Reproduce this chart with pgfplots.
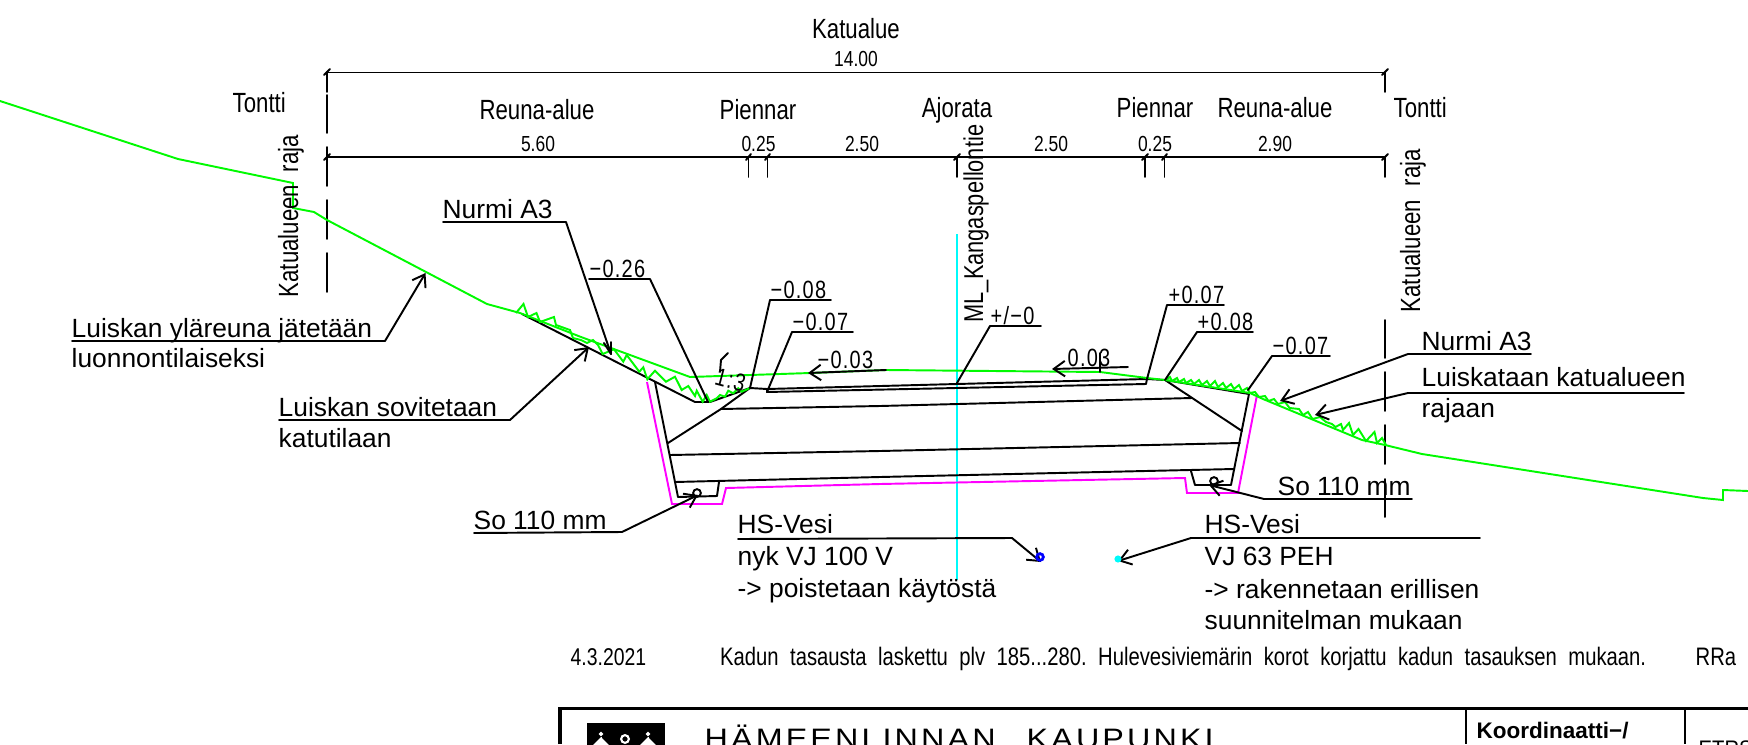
\documentclass[border=0pt]{standalone}
\usepackage{pgfplots}
\pgfplotsset{compat=1.18}
\usepackage{fontspec}
\usetikzlibrary{arrows.meta}
\setmainfont{Liberation Sans}
\newfontfamily\cad[FakeStretch=0.8]{Liberation Sans}
\newfontfamily\cadn[FakeStretch=0.9]{Liberation Sans}
\newfontfamily\cadl[FakeStretch=0.8,LetterSpace=5]{Liberation Sans}
\newfontfamily\cadw[FakeStretch=1.15,LetterSpace=11]{Liberation Sans}
\frenchspacing
\definecolor{grn}{RGB}{0,250,0}
\definecolor{mag}{RGB}{255,0,255}
\definecolor{cyn}{RGB}{0,250,250}
\newcommand{\T}[4][]{\node[anchor=base west,inner sep=0pt,#1] at (axis cs:#2,#3) {#4};}
\newcommand{\C}[3]{\node[anchor=base,inner sep=0pt] at (axis cs:#1,#2) {#3};}
\newcommand{\A}{\fontsize{7.5pt}{8pt}\selectfont}
\newcommand{\B}{\cad\fontsize{7.9pt}{9pt}\selectfont}
\newcommand{\D}{\cad\fontsize{6.2pt}{7pt}\selectfont}
\newcommand{\E}{\cadl\fontsize{7.1pt}{8pt}\selectfont}
\newcommand{\F}{\cad\fontsize{7.2pt}{8pt}\selectfont}
\tikzset{ln/.style={black,line width=0.55pt,line cap=round,line join=round},
 gl/.style={grn,line width=0.55pt,line join=miter},
 ar/.style={ln,-{Straight Barb[length=3.2pt,width=4.4pt,line width=0.55pt]}}}
\begin{document}
\begin{tikzpicture}
\clip (0,0) rectangle (17.48,7.44);
\begin{axis}[hide axis,scale only axis,width=17.48cm,height=7.44cm,
 xmin=0,xmax=1748,ymin=0,ymax=744,y dir=reverse,clip=false]
% cyan centre line
\addplot[cyn,line width=0.6pt] coordinates {(957,234) (957,580)};
% dimension lines
\addplot[ln] coordinates {(327,72.5) (1385,72.5)};
\addplot[ln] coordinates {(327,157) (1385,157)};
\addplot[ln] coordinates {(1385,72) (1385,92)};
\addplot[ln] coordinates {(1385,157) (1385,177)};
\addplot[ln] coordinates {(748.5,157) (748.5,177)};
\addplot[ln] coordinates {(767.5,157) (767.5,177)};
\addplot[ln] coordinates {(957,157) (957,177)};
\addplot[ln] coordinates {(1145,157) (1145,177)};
\addplot[ln] coordinates {(1164.5,157) (1164.5,177)};
\addplot[ln] coordinates {(324,75) (330,69)};
\addplot[ln] coordinates {(1382,75) (1388,69)};
\addplot[ln] coordinates {(324,160) (330,154)};
\addplot[ln] coordinates {(746,160) (751,154)};
\addplot[ln] coordinates {(765,160) (770,154)};
\addplot[ln] coordinates {(954,160) (960,154)};
\addplot[ln] coordinates {(1142,160) (1148,154)};
\addplot[ln] coordinates {(1162,160) (1167,154)};
\addplot[ln] coordinates {(1382,160) (1388,154)};
% boundary dashes left
\addplot[ln] coordinates {(327,72) (327,92)};
\addplot[ln] coordinates {(327,95) (327,133)};
\addplot[ln] coordinates {(327,147) (327,186)};
\addplot[ln] coordinates {(327,200) (327,239)};
\addplot[ln] coordinates {(327,253) (327,292)};
% boundary dashes right
\addplot[ln] coordinates {(1385,320) (1385,358)};
\addplot[ln] coordinates {(1385,372) (1385,411)};
\addplot[ln] coordinates {(1385,425) (1385,464)};
\addplot[ln] coordinates {(1385,479) (1385,517)};
% road structure
\addplot[ln] coordinates {(522,314) (695,402) (710,402) (750,388) (767,389) (1147,379) (1165,380) (1249,394)};
\addplot[ln] coordinates {(767,389) (767,392) (1146,384) (1147,379)};
\addplot[ln] coordinates {(668,443) (721,409) (750,388)};
\addplot[ln] coordinates {(721,409) (880,406) (1192,398)};
\addplot[ln] coordinates {(1165,380) (1242,431)};
\addplot[ln] coordinates {(655,382) (678,497) (717,496) (719,482)};
\addplot[ln] coordinates {(1249,394) (1231,485) (1195,485) (1191,471)};
\addplot[ln] coordinates {(670,455) (880,451) (1240,443)};
\addplot[ln] coordinates {(675,482) (880,477) (1234,469)};
% magenta
\addplot[mag,line width=0.55pt] coordinates {(647,382) (672,504) (722,504) (726,488) (880,484) (1185,478) (1187,493) (1238,493) (1257,395)};
% green terrain
\addplot[gl] coordinates {(0,101) (178,159) (293,183) (293,208) (314,212) (327,220) (487,304) (520,313) (581,337) (690,377) (810,373) (886,370) (1100,372) (1147,378) (1165,380)};
\addplot[gl] coordinates {(1165,380) (1250,393) (1263,399) (1362,440) (1385,445) (1422,454) (1703,498) (1723,500) (1723,490) (1748,491)};
% green zigzag left
\addplot[gl] coordinates {(516,313) (523.5,304) (528,317) (536.5,313) (540,322) (554,317) (556,325) (570,330) (573,338) (581,340) (587,343) (593,340) (598,345) (602.7,354) (614,349.3) (623.3,361.7) (626.7,355) (639.3,371.7) (643.3,367.3) (647.3,379.3) (655,370.7) (666,381.7) (675,376.7) (681.7,390) (688.3,386) (695,396) (696.7,390.7) (702.7,401.7) (706.7,395) (710,401.7) (716.7,398.3) (720,395) (725,396.7) (728.3,390.7) (733.3,393.3) (738.3,388.3) (741.7,391.7) (749.3,388.3)};
% green zigzag right
\addplot[gl] coordinates {(1165,380) (1170,377) (1172,381) (1177,378) (1179,382) (1184,379) (1186,383) (1191,380) (1194,384) (1199,380) (1202,385) (1207,381) (1210,386) (1215,381) (1218,387) (1223,383) (1226,388) (1231,384) (1234,389) (1239,385) (1242,391) (1247,388) (1250,393) (1255,392) (1259,397) (1265,396) (1268.5,401) (1274,399) (1278,404) (1285,402) (1289.6,408) (1299,409) (1303,415) (1308,412) (1312.5,419) (1320,417) (1326,422) (1332,424) (1335.5,427) (1341,424) (1343,430) (1349,423) (1353,435) (1358.5,429) (1366,441) (1374.5,432) (1377,443) (1382,438) (1386,445)};
% leaders
\addplot[ln] coordinates {(443,222) (566,222) (611,354)};
\addplot[ln] coordinates {(604,343) (611,354) (611,342)};
\addplot[ar] coordinates {(72,341) (385,341) (425.5,273)};
\addplot[ar] coordinates {(279,420) (510,420) (589,347)};
\addplot[ln] coordinates {(589,279) (650,279) (708,402)};
\addplot[ln] coordinates {(770,300) (831,300)};
\addplot[ln] coordinates {(770,300) (750,388)};
\addplot[ln] coordinates {(792,332) (853,332)};
\addplot[ln] coordinates {(792,332) (767,392)};
\addplot[ar] coordinates {(886,370) (808,373)};
\addplot[ln] coordinates {(1041,326) (990,326) (957,383)};
\addplot[ar] coordinates {(1128,367) (1052,369)};
\addplot[ln] coordinates {(1100,353) (1100,372)};
\addplot[ln] coordinates {(1224,305) (1167,305) (1147,379)};
\addplot[ln] coordinates {(1253,332) (1197,332) (1165,380)};
\addplot[ln] coordinates {(1330,356) (1272,356) (1248,390)};
\addplot[ar] coordinates {(1531,354) (1408,354) (1280,401)};
\addplot[ar] coordinates {(1684,393) (1408,393) (1315,415)};
\addplot[ar] coordinates {(474,533) (622,532) (698,495)};
\addplot[ar] coordinates {(1412,499) (1264,499) (1209,485)};
\addplot[ln] coordinates {(728,353) (721,360) (720,372)};
% pipes
\addplot[only marks,mark=o,mark size=1.1pt,mark options={black,line width=0.55pt}] coordinates {(697,493) (1214,481)};
\addplot[only marks,mark=o,mark size=0.95pt,mark options={blue,line width=0.8pt}] coordinates {(1040,557)};
\addplot[only marks,mark=*,mark size=0.8pt,mark options={cyn,fill=cyn}] coordinates {(1118,559)};
\addplot[ar] coordinates {(738,539) (1012,538) (1041,562)};
\addplot[ar] coordinates {(1480,538) (1191,538) (1118,561)};
% title block
\addplot[black,line width=0.9pt] coordinates {(560,744) (560,708.5) (1748,708.5)};
\addplot[black,line width=0.6pt] coordinates {(1466,709) (1466,744)};
\addplot[black,line width=0.6pt] coordinates {(1685,709) (1685,744)};
\addplot[black,fill=black,line width=0pt] coordinates {(587,723) (664,723) (664,748) (587,748)} -- cycle;
\addplot[white,fill=white,line width=0pt] coordinates {(601,737) (592,746) (610,746)} -- cycle;
\addplot[white,fill=white,line width=0pt] coordinates {(648,737) (639,746) (657,746)} -- cycle;
\addplot[only marks,mark=*,mark size=0.4pt,mark options={white,fill=white}] coordinates {(601,734) (648,734)};
\addplot[only marks,mark=o,mark size=1.1pt,mark options={white,line width=0.6pt}] coordinates {(625,739)};
% big dimension text
\C{856}{39}{\B Katualue}
\C{856}{66}{\D 14.00}
\T{232}{112}{\B Tontti}
\C{537}{119}{\B Reuna-alue}
\C{758}{119}{\B Piennar}
\C{957}{117}{\B Ajorata}
\C{1155}{117}{\B Piennar}
\C{1275}{117}{\B Reuna-alue}
\T{1393}{117}{\B Tontti}
\C{538}{151}{\D 5.60}
\C{758.5}{151}{\D 0.25}
\C{862}{151}{\D 2.50}
\C{1051}{151}{\D 2.50}
\C{1155}{151}{\D 0.25}
\C{1275}{151}{\D 2.90}
\T[rotate=90]{298}{298}{\B\makebox[1.62cm][s]{Katualueen raja}}
\T[rotate=90]{1420}{313}{\B\makebox[1.63cm][s]{Katualueen raja}}
\T[rotate=90]{983}{323}{\cad\fontsize{7.75pt}{9pt}\selectfont ML\_Kangaspellontie}
% level text
\T{589}{277}{\E −0.26}
\T{770}{298}{\E −0.08}
\T{792}{330}{\E −0.07}
\T{817}{368}{\E −0.03}
\T{990}{324}{\E +/−0}
\T{1067}{366}{\E 0.03}
\T{1168}{303}{\E +0.07}
\T{1197}{330}{\E +0.08}
\T{1272}{354}{\E −0.07}
\T[rotate=-15]{713}{384}{\E 1:3}
% Arial labels
\T{442}{218}{\A Nurmi A3}
\T{71}{337}{\A Luiskan yläreuna jätetään}
\T{71}{367}{\A luonnontilaiseksi}
\T{278}{416}{\A Luiskan sovitetaan}
\T{278}{447}{\A katutilaan}
\T{473}{529}{\A So 110 mm}
\T{737}{533}{\A HS-Vesi}
\T{737}{565}{\A nyk VJ 100 V}
\T{737}{597}{\A -> poistetaan käytöstä}
\T{1204}{533}{\A HS-Vesi}
\T{1204}{565}{\A VJ 63 PEH}
\T{1204}{598}{\A -> rakennetaan erillisen}
\T{1204}{629}{\A suunnitelman mukaan}
\T{1277}{495}{\A So 110 mm}
\T{1421}{350}{\A Nurmi A3}
\T{1421}{386}{\A Luiskataan katualueen}
\T{1421}{417}{\A rajaan}
% revision row
\T{570}{665}{\cad\fontsize{6.9pt}{8pt}\selectfont 4.3.2021}
\T{719.5}{665}{\F\makebox[9.26cm][s]{Kadun tasausta laskettu plv 185...280. Hulevesiviemärin korot korjattu kadun tasauksen mukaan.}}
\T{1695}{665}{\F RRa}
% title block text
\T{704}{748}{\cadw\fontsize{8pt}{9pt}\selectfont\makebox[5.09cm][s]{HÄMEENLINNAN KAUPUNKI}}
\T{1476}{738}{\fontsize{6.4pt}{7pt}\selectfont\bfseries Koordinaatti−/}
\T{1698}{756}{\cadn\fontsize{6.4pt}{7pt}\selectfont ETRS-GK25}
\end{axis}
\end{tikzpicture}
\end{document}
